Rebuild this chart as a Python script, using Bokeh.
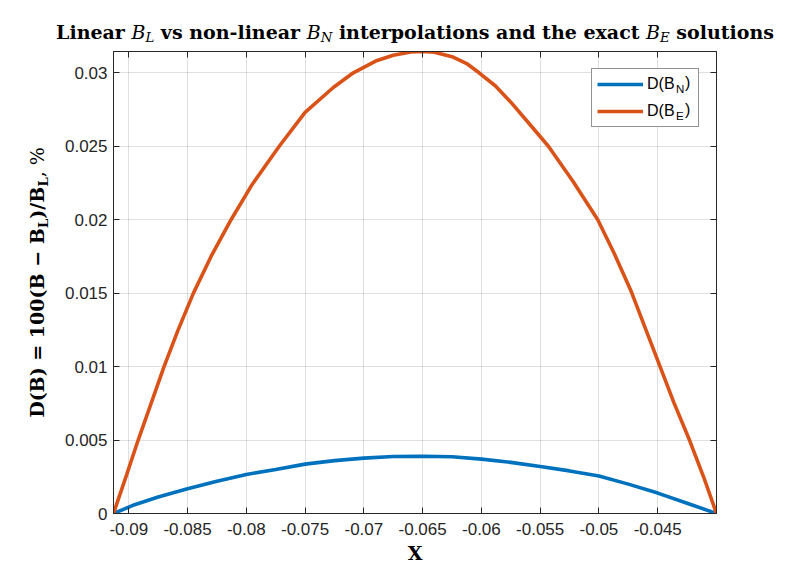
import glob
import math
from bokeh.plotting import figure
from bokeh.layouts import column, row
from bokeh.models import (Range1d, FixedTicker, LinearAxis, Label, Legend, LegendItem,
                          CustomJSTickFormatter)
from bokeh.embed import file_html
from bokeh.resources import INLINE

# ---------------- data ----------------
x_bn = [-0.0913, -0.0895, -0.0875, -0.0850, -0.0825, -0.0800, -0.0775, -0.0750,
        -0.0725, -0.0700, -0.0675, -0.0650, -0.0625, -0.0600, -0.0575, -0.0550,
        -0.0525, -0.0500, -0.0475, -0.0450, -0.0425, -0.0400]
y_bn = [0.0, 0.0006, 0.00112, 0.00168, 0.0022, 0.00266, 0.0030, 0.00336,
        0.0036, 0.00377, 0.00388, 0.0039, 0.00386, 0.0037, 0.00348, 0.0032,
        0.0029, 0.00255, 0.0020, 0.00139, 0.0007, 0.0]

x_be = [-0.0913, -0.0902, -0.0892, -0.0881, -0.0870, -0.0858, -0.0845, -0.0830,
        -0.0813, -0.0795, -0.0772, -0.0750, -0.0726, -0.0709, -0.0690, -0.0675,
        -0.0660, -0.0650, -0.0640, -0.0625, -0.0612, -0.0602, -0.0588, -0.0575,
        -0.0560, -0.0543, -0.0522, -0.0501, -0.0487, -0.0473, -0.0461, -0.0448,
        -0.0436, -0.0423, -0.0411, -0.0400]
y_be = [0.0, 0.0026, 0.0050, 0.0075, 0.0100, 0.0125, 0.0150, 0.0175,
        0.0200, 0.0224, 0.0250, 0.0273, 0.0290, 0.0300, 0.0308, 0.0312,
        0.03142, 0.03145, 0.0314, 0.0311, 0.0306, 0.0300, 0.0291, 0.0280,
        0.0266, 0.0250, 0.0226, 0.0200, 0.0177, 0.0152, 0.0127, 0.0100,
        0.0075, 0.0050, 0.0025, 0.0]

x_ticks = [-0.09, -0.085, -0.08, -0.075, -0.07, -0.065, -0.06, -0.055, -0.05, -0.045]
x_tick_labels = ["-0.09", "-0.085", "-0.08", "-0.075", "-0.07", "-0.065", "-0.06",
                 "-0.055", "-0.05", "-0.045"]
y_ticks = [0.0, 0.005, 0.01, 0.015, 0.02, 0.025, 0.03]
y_tick_labels = ["0", "0.005", "0.01", "0.015", "0.02", "0.025", "0.03"]

legend_base = "D(B"
series_names = ["N", "E"]
title_parts = [("Linear ", "text"), ("B", "math"), ("L", "sub"),
               (" vs non-linear ", "text"), ("B", "math"), ("N", "sub"),
               (" interpolations and the exact ", "text"), ("B", "math"), ("E", "sub"),
               (" solutions", "text")]
ylabel_parts = [("D(B) = 100(B \u2212 B", "bold"), ("L", "boldsub"), (")/B", "bold"),
                ("L", "boldsub"), (", %", "plain")]
xlabel = "X"

# ---------------- text measuring (layout only) ----------------
_font_cache = {}


def _font_path(fname):
    if fname not in _font_cache:
        hits = (glob.glob("/usr/share/fonts/**/" + fname, recursive=True) +
                glob.glob("/usr/local/share/fonts/**/" + fname, recursive=True))
        _font_cache[fname] = hits[0] if hits else None
    return _font_cache[fname]


def text_width(text, fname, size):
    path = _font_path(fname)
    if path:
        try:
            from PIL import ImageFont
            f = ImageFont.truetype(path, 100)
            return f.getlength(text) * size / 100.0
        except Exception:
            pass
    return 0.62 * size * len(text)


MID = 0.346   # baseline minus text-middle, in em

# ---------------- geometry ----------------
W, H = 796, 584
FL, FR, FT, FB = 113, 716, 51, 513     # plot frame in page pixels
T = 46                                  # title strip height
L = 56                                  # y-label strip width
MW, MH = W - L, H - T                   # main figure size

BLUE = "#0072BD"
ORANGE = "#D95319"
AX = "#262626"

p = figure(width=MW, height=MH, output_backend="svg", toolbar_location=None, title=None,
           x_range=Range1d(min(x_be), max(x_be)), y_range=Range1d(0, max(y_be)),
           min_border_left=FL - L, min_border_right=W - FR, min_border_top=FT - T,
           min_border_bottom=H - FB, background_fill_color="white",
           border_fill_color="white")

r1 = p.line(x_bn, y_bn, line_color=BLUE, line_width=3.6)
r2 = p.line(x_be, y_be, line_color=ORANGE, line_width=3.6)
ghost = p.line(x_bn, y_bn, line_alpha=0)   # invisible, used for legend sub-labels

xt = FixedTicker(ticks=x_ticks)
yt = FixedTicker(ticks=y_ticks)

for ax, t, labs in ((p.xaxis[0], xt, dict(zip(x_ticks, x_tick_labels))),
                    (p.yaxis[0], yt, dict(zip(y_ticks, y_tick_labels)))):
    ax.ticker = t
    ax.major_label_overrides = labs
    ax.major_tick_in = 6
    ax.major_tick_out = 0
    ax.minor_tick_in = 0
    ax.minor_tick_out = 0
    ax.axis_line_color = AX
    ax.major_tick_line_color = AX
    ax.major_label_text_color = AX
    ax.major_label_text_font = "Liberation Sans"
    ax.major_label_text_font_size = "17px"

p.xaxis.major_label_standoff = 9
p.yaxis.major_label_standoff = 6
p.xaxis.axis_label = xlabel
p.xaxis.axis_label_text_font = "DejaVu Serif"
p.xaxis.axis_label_text_font_style = "bold"
p.xaxis.axis_label_text_font_size = "19px"
p.xaxis.axis_label_text_color = "black"
p.xaxis.axis_label_standoff = 4

blank = CustomJSTickFormatter(code="return ''")
for side, tk in (("above", xt), ("right", yt)):
    a = LinearAxis(ticker=tk, formatter=blank, major_tick_in=6, major_tick_out=0,
                   minor_tick_in=0, minor_tick_out=0, axis_line_color=AX,
                   major_tick_line_color=AX, major_label_standoff=0,
                   major_label_text_font_size="0px")
    p.add_layout(a, side)

p.xgrid.ticker = xt
p.ygrid.ticker = yt
for g in (p.xgrid, p.ygrid):
    g.grid_line_color = AX
    g.grid_line_alpha = 0.15
    g.grid_line_width = 1

p.outline_line_color = AX
p.outline_line_width = 1

# ---------------- legend (main + transparent legends for subscripts) ----------------
LEG_FS, LEG_SUB = 16, 11.5
PAD, GW, STAND, LW = 5, 46, 4, 46
MARGIN = 17
common = dict(location="top_right", padding=PAD, spacing=7, glyph_height=20,
              label_height=20, label_text_font="Liberation Sans",
              label_text_color="black")
main_leg = Legend(items=[LegendItem(label=legend_base, renderers=[r1]),
                         LegendItem(label=legend_base, renderers=[r2])],
                  margin=MARGIN, glyph_width=GW, label_width=LW, label_standoff=STAND,
                  label_text_font_size=f"{LEG_FS}px", border_line_color=AX,
                  border_line_width=1, background_fill_color="white",
                  background_fill_alpha=1.0, **common)
p.add_layout(main_leg)

label_x0 = (FR - MARGIN) - PAD - LW                 # page x where "D(B" starts
base_w = text_width(legend_base, "LiberationSans-Regular.ttf", LEG_FS)
sub_w = max(text_width(n, "LiberationSans-Regular.ttf", LEG_SUB) for n in series_names)
sub_drop = 6
# subscript legend: shifted down by sub_drop via margin; right edge moves left by same
m2 = MARGIN + sub_drop
lw2 = int(round((FR - m2) - PAD - (label_x0 + base_w)))
sub_leg = Legend(items=[LegendItem(label=n, renderers=[ghost]) for n in series_names],
                 margin=m2, glyph_width=10, label_width=lw2, label_standoff=0,
                 label_text_font_size=f"{LEG_SUB}px", border_line_alpha=0,
                 background_fill_alpha=0, **common)
p.add_layout(sub_leg)
lw3 = int(round((FR - MARGIN) - PAD - (label_x0 + base_w + sub_w + 1.5)))
close_leg = Legend(items=[LegendItem(label=")", renderers=[ghost]) for _ in series_names],
                   margin=MARGIN, glyph_width=10, label_width=lw3, label_standoff=0,
                   label_text_font_size=f"{LEG_FS}px", border_line_alpha=0,
                   background_fill_alpha=0, **common)
p.add_layout(close_leg)


def strip_fig(w, h, yspan):
    f = figure(width=w, height=h, output_backend="svg", toolbar_location=None, title=None,
               x_range=Range1d(0, w), y_range=Range1d(0, yspan), min_border=0,
               x_axis_type=None, y_axis_type=None, background_fill_color="white",
               border_fill_color="white")
    f.outline_line_color = None
    f.grid.visible = False
    return f


# ---------------- title strip (rich text pieces) ----------------
tf = strip_fig(W, T, T)
T_SIZE, T_SUB = 19, 13.3
t_styles = {
    "text": ("DejaVuSerif-Bold.ttf", "bold", T_SIZE, 0),
    "math": ("DejaVuSerif-Italic.ttf", "italic", T_SIZE, 0),
    "sub": ("DejaVuSerif-Italic.ttf", "italic", T_SUB, 4),
}
title_baseline = 37.7                    # page y
widths = [text_width(t, t_styles[s][0], t_styles[s][2]) for t, s in title_parts]
cur = (FL + FR) / 2.0 - sum(widths) / 2.0
for (t, s), w in zip(title_parts, widths):
    ff, style, size, drop = t_styles[s]
    stripped = t.strip()
    lead = text_width(t[:len(t) - len(t.lstrip())], ff, size)
    ws = text_width(stripped, ff, size)
    mid_y = title_baseline + drop - MID * size
    tf.add_layout(Label(x=cur + lead + ws / 2.0, y=T - mid_y, text=stripped,
                        text_font="DejaVu Serif", text_font_style=style,
                        text_font_size=f"{size}px", text_align="center",
                        text_baseline="middle", text_color="black"))
    cur += w

# ---------------- y-label strip (rotated rich text pieces) ----------------
# The strip's frame is aligned with the main plot frame (page y FT..FB) by the row layout.
yf = strip_fig(L, MH, FB - FT)
Y_SIZE, Y_SUB = 19, 13.5
y_styles = {
    "bold": ("DejaVuSerif-Bold.ttf", "bold", Y_SIZE, 0),
    "boldsub": ("DejaVuSerif-Bold.ttf", "bold", Y_SUB, 4),
    "plain": ("DejaVuSerif.ttf", "normal", Y_SIZE, 0),
}
ylab_baseline = 43                       # page x of the rotated baseline
widths = [text_width(t, y_styles[s][0], y_styles[s][2]) for t, s in ylabel_parts]
centre_y = (FB - FT) / 2.0               # strip data y of frame centre
cur = centre_y - sum(widths) / 2.0
for (t, s), w in zip(ylabel_parts, widths):
    ff, style, size, drop = y_styles[s]
    mid_x = ylab_baseline + drop - MID * size
    yf.add_layout(Label(x=mid_x, y=cur + w / 2.0, text=t, angle=math.pi / 2,
                        text_font="DejaVu Serif", text_font_style=style,
                        text_font_size=f"{size}px", text_align="center",
                        text_baseline="middle", text_color="black"))
    cur += w

layout = column(tf, row(yf, p, spacing=0), spacing=0)
open("out.html", "w").write(file_html(layout, INLINE))
